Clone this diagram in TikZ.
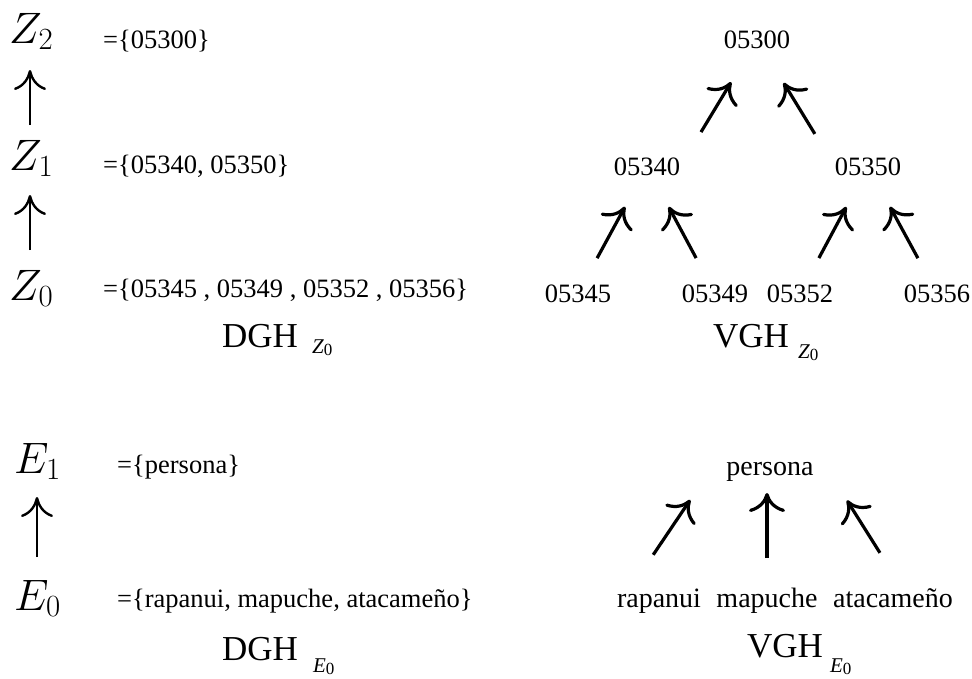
\documentclass[tikz,border=0pt]{standalone}
\usepackage{fix-cm}
\usepackage{fontspec}
\setmainfont{Liberation Serif}
\usetikzlibrary{arrows.meta}
\newcommand{\genh}[4]{{\fontsize{35}{40}\selectfont #1\hspace{#3}\raisebox{-#4}{\fontsize{21}{22}\selectfont\textit{#2}\raisebox{-2pt}{\fontsize{17}{18}\selectfont 0}}}}

\begin{document}
\begin{tikzpicture}[x=1pt,y=-1pt]
		\tikzstyle{every node}=[inner sep=0pt]
		\tikzstyle{lvl}=[anchor=base west,font=\fontsize{44}{48}\selectfont]
		\tikzstyle{set}=[anchor=base west,font=\fontsize{26.5}{30}\selectfont]
		\tikzstyle{val}=[anchor=base,font=\fontsize{26.5}{30}\selectfont]
		\tikzstyle{word}=[anchor=base,font=\fontsize{28}{32}\selectfont]
		\tikzstyle{up}=[line width=2.4pt,-{To[length=20pt,width=32pt]}]
		\tikzstyle{every edge}=[draw,line width=3.2pt,-{To[length=19pt,width=36pt]}]
		\useasboundingbox (0,0) rectangle (972,678);

		% DGH of Z
		\node[lvl] (z2) at (9,43) {$Z_2$};
		\node[lvl] (z1) at (9,170) {$Z_1$};
		\node[lvl] (z0) at (9,300) {$Z_0$};
		\coordinate (zx) at (30,0);
		\node[set] (setz2) at (103,48) {=\{05300\}};
		\node[set] (setz1) at (103,173) {=\{05340, 05350\}};
		\node[set] (setz0) at (103,297) {=\{05345 , 05349 , 05352 , 05356\}};
		\node[anchor=base west] (dghz) at (222,347) {\genh{DGH}{Z}{14pt}{6pt}};

		\path (z1.base -| zx) edge[up, shorten <=45pt, shorten >=27pt] (z2.base -| zx);
		\path (z0.base -| zx) edge[up, shorten <=50pt, shorten >=25pt] (z1.base -| zx);

		% VGH of Z
		\node[val] (n05300) at (757,48) {05300};
		\node[val] (n05340) at (647,175) {05340};
		\node[val] (n05350) at (868,175) {05350};
		\node[val] (n05345) at (578,302) {05345};
		\node[val] (n05349) at (715,302) {05349};
		\node[val] (n05352) at (800,302) {05352};
		\node[val] (n05356) at (937,302) {05356};
		\node[anchor=base west] (vghz) at (713,347) {\genh{VGH}{Z}{9pt}{11pt}};

		\path (n05340.east) edge[shorten <=40pt, shorten >=50pt] (n05300.center);
		\path (n05350.west) edge[shorten <=38pt, shorten >=51pt] (n05300.center);
		\path (n05345.center) edge[shorten <=40pt, shorten >=46pt] (n05340.center);
		\path (n05349.center) edge[shorten <=40pt, shorten >=46pt] (n05340.center);
		\path (n05352.center) edge[shorten <=40pt, shorten >=46pt] (n05350.center);
		\path (n05356.center) edge[shorten <=40pt, shorten >=46pt] (n05350.center);

		% DGH of E
		\node[lvl] (e1) at (14,473) {$E_1$};
		\node[lvl] (e0) at (14,610) {$E_0$};
		\coordinate (ex) at (37,0);
		\node[set] (sete1) at (117,473) {=\{persona\}};
		\node[set] (sete0) at (117,607) {=\{rapanui, mapuche, atacameño\}};
		\node[anchor=base west] (dghe) at (222,660) {\genh{DGH}{E}{15pt}{12pt}};

		\path (e0.base -| ex) edge[up, shorten <=53pt, shorten >=24pt] (e1.base -| ex);

		% VGH of E
		\node[word] (persona) at (770,475) {persona};
		\node[word] (rapanui) at (659,607) {rapanui};
		\node[word] (mapuche) at (767,607) {mapuche};
		\node[word] (atacameno) at (893,607) {atacameño};
		\node[anchor=base west] (vghe) at (747,657) {\genh{VGH}{E}{7pt}{15pt}};

		\path ([xshift=-41pt]rapanui.base) edge[shorten <=63pt, shorten >=30pt] ([xshift=-63pt]persona.base);
		\path (mapuche.base) edge[shorten <=49pt, shorten >=18pt] (persona.base -| mapuche.base);
		\path ([xshift=21pt]atacameno.base) edge[shorten <=64pt, shorten >=30pt] ([xshift=61pt]persona.base);
	\end{tikzpicture}
\end{document}
